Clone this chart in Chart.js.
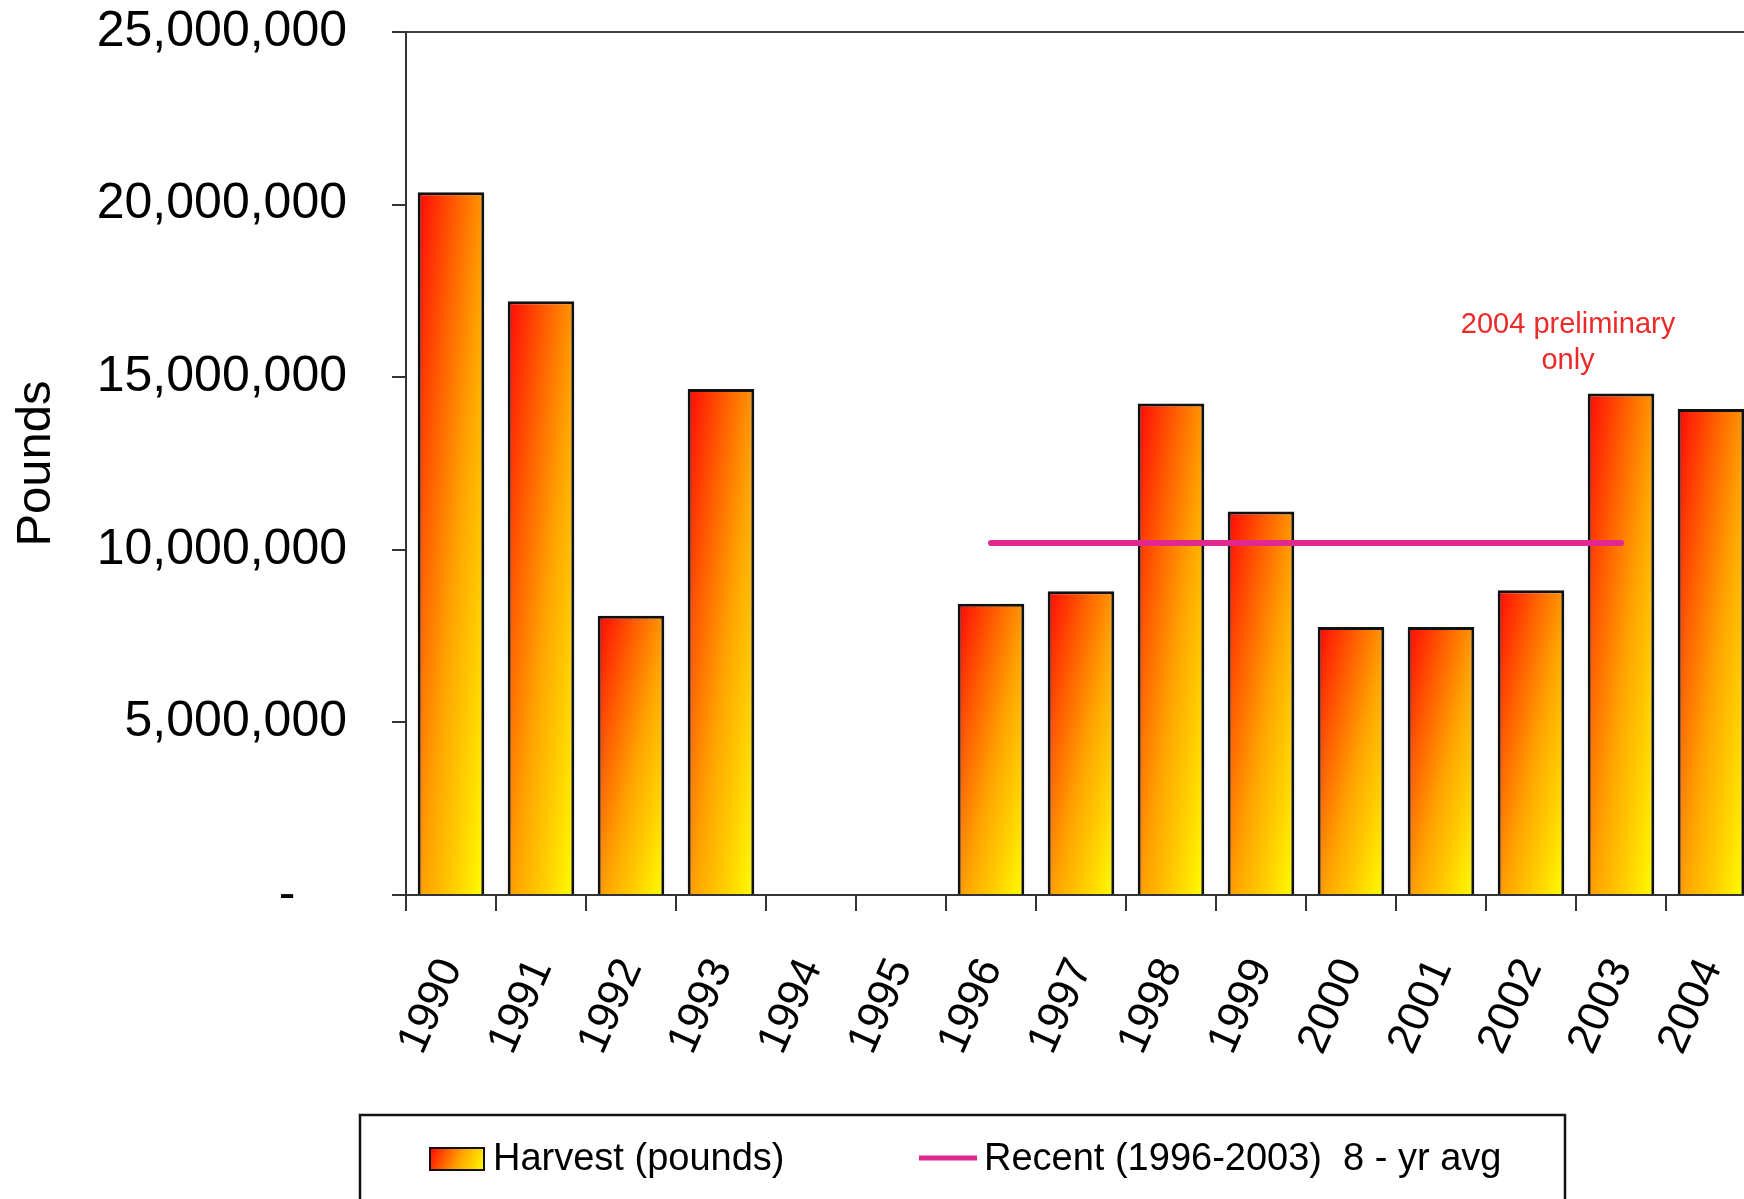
<!DOCTYPE html>
<html><head><meta charset="utf-8">
<script src="https://cdn.jsdelivr.net/npm/chart.js@4.4.1/dist/chart.umd.min.js"></script>
<style>html,body{margin:0;padding:0;background:#fff;overflow:hidden;width:1744px;height:1199px}canvas{display:block}</style>
</head><body>
<canvas id="c" width="1780" height="1199"></canvas>
<script>
const years = ['1990','1991','1992','1993','1994','1995','1996','1997','1998','1999','2000','2001','2002','2003','2004'];
const harvestPounds = [20360000, 17200000, 8090000, 14660000, null, null, 8440000, 8800000, 14240000, 11110000, 7760000, 7760000, 8830000, 14530000, 14080000];
const recentAvg = [null, null, null, null, null, null, 10200000, 10200000, 10200000, 10200000, 10200000, 10200000, 10200000, 10200000, null];
const yTickValues = [0, 5000000, 10000000, 15000000, 20000000, 25000000];
const seriesLabels = ['Harvest (pounds)', 'Recent (1996-2003)  8 - yr avg'];
const noteLines = ['2004 preliminary', 'only'];

const FONT = '"Liberation Sans", Arial, Helvetica, sans-serif';
const BAR_PCT = 0.74;
const PINK = '#e0288f';

function addStops(g) {
  g.addColorStop(0, '#ff0808');
  g.addColorStop(0.28, '#ff5a00');
  g.addColorStop(0.55, '#ffa400');
  g.addColorStop(0.8, '#ffd400');
  g.addColorStop(1, '#ffff00');
  return g;
}

function barFill(ctx) {
  const chart = ctx.chart;
  const xs = chart.scales.x, ys = chart.scales.y;
  if (!xs || !ys || ctx.type !== 'data' || ctx.raw == null) return '#ff9900';
  const cx = xs.getPixelForValue(ctx.dataIndex);
  const cw = xs.getPixelForValue(1) - xs.getPixelForValue(0);
  const w = Math.abs(cw) * BAR_PCT;
  const left = cx - w / 2;
  const top = ys.getPixelForValue(ctx.raw);
  const bottom = ys.getPixelForValue(0);
  const h = Math.max(bottom - top, 1);
  const vals = [cx, cw, w, left, top, bottom, h];
  if (vals.some(v => !Number.isFinite(v)) || w < 1) return '#ff9900';
  const k = 1 / (w * w) + 1 / (h * h);
  const x1 = left + (2 / w) / k, y1 = top + (2 / h) / k;
  if (!Number.isFinite(x1) || !Number.isFinite(y1)) return '#ff9900';
  const g = chart.ctx.createLinearGradient(left, top, x1, y1);
  return addStops(g);
}

function noPad(s) {
  s.paddingTop = 0; s.paddingBottom = 0; s.paddingLeft = 0; s.paddingRight = 0;
}

const extras = {
  id: 'extras',
  afterDraw(chart) {
    const c = chart.ctx;
    c.save();
    c.strokeStyle = '#111';
    c.lineWidth = 2.5;
    c.strokeRect(360, 1115, 1205, 200);
    const g = addStops(c.createLinearGradient(430, 1148, 484, 1170));
    c.fillStyle = g;
    c.fillRect(430, 1148, 54, 22);
    c.lineWidth = 2;
    c.strokeRect(430, 1148, 54, 22);
    c.font = '38px ' + FONT;
    c.fillStyle = '#000';
    c.textBaseline = 'middle';
    c.textAlign = 'left';
    c.fillText(chart.data.datasets[1].label, 493, 1160);
    c.strokeStyle = PINK;
    c.lineWidth = 5;
    c.beginPath();
    c.moveTo(919, 1158);
    c.lineTo(977, 1158);
    c.stroke();
    c.fillText(chart.data.datasets[0].label, 984, 1160);
    c.fillStyle = '#ec2a2a';
    c.font = '29px ' + FONT;
    c.textAlign = 'center';
    noteLines.forEach((t, i) => c.fillText(t, 1568, 325 + i * 36));
    c.restore();
  }
};

new Chart(document.getElementById('c'), {
  type: 'bar',
  data: {
    labels: years,
    datasets: [
      {
        type: 'line',
        label: seriesLabels[1],
        data: recentAvg,
        borderColor: PINK,
        borderWidth: 6,
        pointRadius: 0,
        borderCapStyle: 'round',
        fill: false,
        order: 0
      },
      {
        type: 'bar',
        label: seriesLabels[0],
        data: harvestPounds,
        backgroundColor: barFill,
        borderColor: '#111',
        borderWidth: 3,
        barPercentage: BAR_PCT,
        categoryPercentage: 1,
        order: 1
      }
    ]
  },
  options: {
    responsive: false,
    animation: false,
    devicePixelRatio: 1,
    layout: { padding: { top: 32, right: 24, left: 0, bottom: 0 } },
    plugins: { legend: { display: false }, tooltip: { enabled: false } },
    scales: {
      x: {
        offset: true,
        afterFit(s) { s.height = 304; noPad(s); },
        grid: { display: true, drawOnChartArea: false, offset: true, tickLength: 16, tickColor: '#333', lineWidth: 2 },
        border: { display: true, color: '#333', width: 2 },
        ticks: { autoSkip: false, minRotation: 66, maxRotation: 66, padding: 40, color: '#000', font: { family: FONT, size: 44 } }
      },
      y: {
        min: 0,
        max: 25000000,
        afterFit(s) { s.width = 406; noPad(s); },
        afterBuildTicks(s) { s.ticks = yTickValues.map(v => ({ value: v })); },
        grid: {
          drawOnChartArea: true,
          color: (c) => (c.tick && c.tick.value === 25000000) ? '#444' : 'rgba(0,0,0,0)',
          lineWidth: 2,
          tickLength: 14,
          tickColor: '#333'
        },
        border: { display: true, color: '#333', width: 2 },
        title: { display: true, text: 'Pounds', color: '#000', font: { family: FONT, size: 49 }, padding: { top: 7, bottom: 0 } },
        ticks: {
          padding: 45,
          color: '#000',
          font: { family: FONT, size: 50 },
          callback: (v) => v === 0 ? '-   \u2009' : Number(v).toLocaleString('en-US')
        }
      }
    }
  },
  plugins: [extras]
});
</script>
</body></html>
